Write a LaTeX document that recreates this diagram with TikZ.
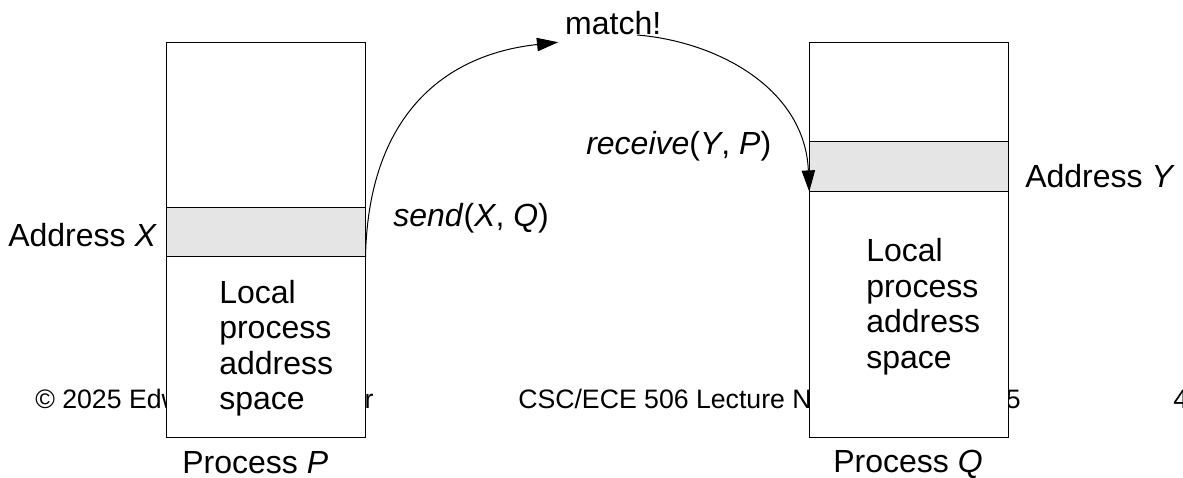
\documentclass[tikz,border=0pt]{standalone}
\usepackage{fontspec}
\setmainfont{Liberation Sans}
\usetikzlibrary{arrows.meta}

\begin{document}
\begin{tikzpicture}[x=0.75pt, y=-0.75pt,
  every node/.style={inner sep=0pt, font=\fontsize{24}{26.6}\selectfont},
  txt/.style={anchor=base west},
  footer/.style={anchor=base west, font=\fontsize{20}{24}\selectfont},
  box/.style={draw, line width=0.75pt, fill=white, minimum width=149.25pt, minimum height=296.6pt},
  band/.style={draw, line width=0.75pt, fill=black!10, minimum width=149.25pt, minimum height=37.1pt},
  msg/.style={line width=0.75pt, -{Triangle[length=16pt, width=10pt]}}]
  \useasboundingbox (0,0) rectangle (1183,478);

  \node[footer] (copy) at (35,408) {\textcopyright{} 2025 Edward F. Gehringer};
  \node[footer] (course) at (518,408) {CSC/ECE 506 Lecture Notes, Spring 2025};
  \node[footer] (page) at (1173,408) {4};

  \node[box] (P) at (265.5,240.25) {};
  \node[band] (bandP) at (265.5,232.25) {};
  \node[box] (Q) at (909.25,240.25) {};
  \node[band] (bandQ) at (909.25,166.5) {};

  \node[txt, align=left] (localP) at (219,409.5) {Local\\process\\address\\space};
  \node[txt, align=left] (localQ) at (866,368) {Local\\process\\address\\space};
  \node[txt] (addrX) at (8,246) {Address \textit{X}};
  \node[txt] (addrY) at (1025,187) {Address \textit{Y}};
  \node[txt] (procP) at (182,473) {Process \textit{P}};
  \node[txt] (procQ) at (833,472) {Process \textit{Q}};
  \node[txt] (send) at (393,226) {\textit{send}(\textit{X}, \textit{Q})};
  \node[txt] (recv) at (586,155) {\textit{receive}(\textit{Y}, \textit{P})};
  \node[txt, inner sep=5pt] (match) at (558.3,35) {match!};

  \draw[msg] (bandP.south east) .. controls (368,120) and (440,55) .. (match.south west);
  \draw[msg] ([xshift=18pt]match.base) .. controls (720,42) and (805,90) .. (bandQ.south west);
\end{tikzpicture}
\end{document}
